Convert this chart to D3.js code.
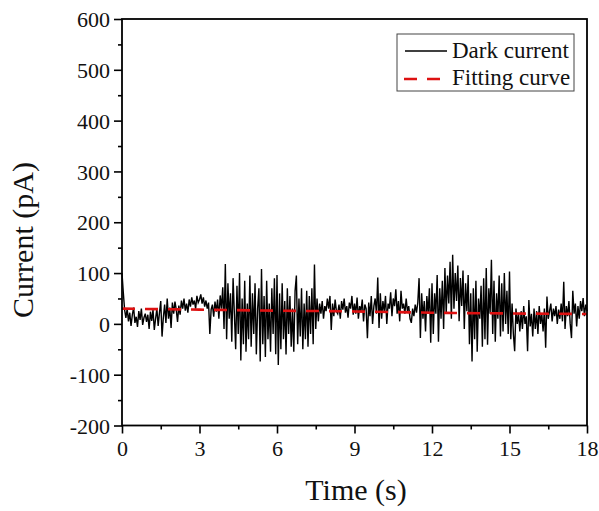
<!DOCTYPE html>
<html>
  <head>
    <meta charset="utf-8">
    <title>Dark current</title>
    <script src="https://d3js.org/d3.v7.min.js"></script>
    <style>
      body { margin: 0; background: #fff; }
      text { font-family: "Liberation Serif", "Times New Roman", serif; fill: #111; }
    </style>
  </head>
  <body>
    <script>
      // dark current, pA, sampled every 0.05 s (one line per second)
      var sampleStep = 0.05;
      var darkCurrent = [
        100, 62, 28, 12, 30, 5, 22, -4, 18, 32, 2, 14, -6, 25, 8, 30, -2, 12, 20, 4,
        18, -10, 24, 6, 28, -12, 10, 30, -4, 22, 45, -25, 12, 38, 2, 50, 10, 32, -8, 42,
        20, 44, 28, 4, 36, 18, 46, 30, 50, 26, 40, 22, 48, 34, 52, 38, 46, 30, 55, 42,
        48, 58, 40, 52, 34, 46, 30, 42, -20, 28, 38, 14, 44, 24, 48, 10, 56, 30, 72, -10,
        118, -30, 80, 10, 60, -35, 90, 20, -50, 75, -20, 100, -72, 50, -40, 85, -55, 40, -30, 95,
        -45, 60, -20, 80, -60, 30, 70, -74, 108, -40, 55, -65, 85, -30, 40, -55, 70, -20, 90, -60,
        96, -81, 60, -50, 80, -30, 45, -60, 70, -20, 55, -45, 30, -55, 65, 95, -40, 50, -25, 70,
        -50, 40, -30, 65, -45, 55, -20, 70, -40, 117, -10, 50, 5, 40, 20, 45, 10, 35, 25, 50,
        30, 55, -12, 40, 15, 48, 25, 20, 38, 10, 45, 28, 50, 22, 35, 12, 42, 30, 55, 18,
        40, 20, 52, 10, 35, 25, 48, 5, 38, 30, -28, 42, 15, 55, 0, 35, 50, 20, 91, -8,
        60, 10, 45, 25, 55, 0, 40, 30, 62, 15, 50, 35, 68, 20, 45, 5, 65, 30, 40, 20,
        50, 25, 35, 10, 2, 30, 15, 38, 22, 42, 90, -28, 60, 10, 45, -15, 55, 20, 70, -37,
        80, -20, 60, 20, 96, -35, 70, 10, 85, -10, 110, 20, 95, 40, 122, 10, 136, 30, 100, 45,
        115, 5, 90, 35, 105, -10, 80, 25, 96, -40, 60, -74, 70, -30, 85, -55, 50, 10, 75, -45,
        90, -30, 110, -41, 70, 20, 126, -20, 85, -35, 60, 10, 95, -25, 80, -15, 100, 0, 65, -20,
        103, -30, 40, -20, -54, 30, 0, 20, -15, 25, -10, 35, 0, 15, -54, 47, -5, 20, -25, 30,
        -10, 25, -20, 35, 0, 20, -15, 30, -47, 54, 10, 25, 40, 5, 30, 15, 35, 0, 28, 10,
        40, 5, 83, -10, 35, 15, 45, 0, -28, 65, 20, 40, -5, 35, 10, 45, 25, 51, 15, 38,
        25
      ];

      // fitting curve
      var fitTime  = [0, 3, 6, 9, 12, 15, 18];
      var fitValue = [30, 28, 26, 24.5, 22, 20.5, 19.5];

      var xTicks = [0, 3, 6, 9, 12, 15, 18];
      var xMinor = [1.5, 4.5, 7.5, 10.5, 13.5, 16.5];
      var yTicks = [-200, -100, 0, 100, 200, 300, 400, 500, 600];
      var yMinor = [-150, -50, 50, 150, 250, 350, 450, 550];

      var legendLabels = ["Dark current", "Fitting curve"];

      var width = 599, height = 511;
      var plotLeft = 122, plotRight = 587, plotTop = 19, plotBottom = 425.5;

      var svg = d3.select("body").append("svg")
        .attr("width", width)
        .attr("height", height);

      var x = d3.scaleLinear().domain([0, 18]).range([plotLeft, plotRight]);
      var y = d3.scaleLinear().domain([-200, 600]).range([plotBottom, plotTop]);

      var series = darkCurrent.map(function (v, i) { return { t: i * sampleStep, v: v }; });
      var fit = fitTime.map(function (t, i) { return { t: t, v: fitValue[i] }; });

      var line = d3.line()
        .x(function (d) { return x(d.t); })
        .y(function (d) { return y(d.v); });

      var fitLine = d3.line()
        .curve(d3.curveMonotoneX)
        .x(function (d) { return x(d.t); })
        .y(function (d) { return y(d.v); });

      svg.append("path")
        .datum(series)
        .attr("fill", "none")
        .attr("stroke", "#000")
        .attr("stroke-width", 1.4)
        .attr("d", line);

      svg.append("path")
        .datum(fit)
        .attr("fill", "none")
        .attr("stroke", "#dd1111")
        .attr("stroke-width", 2.6)
        .attr("stroke-dasharray", "13,10")
        .attr("d", fitLine);

      // axes (plain hyphen for negatives, like the original)
      var plain = function (d) { return String(d); };

      var xAxis = svg.append("g")
        .attr("transform", "translate(0," + plotBottom + ")")
        .call(d3.axisBottom(x).tickValues(xTicks).tickSize(8).tickPadding(5).tickFormat(plain));
      svg.append("g")
        .attr("transform", "translate(0," + plotBottom + ")")
        .call(d3.axisBottom(x).tickValues(xMinor).tickSize(4).tickFormat(""));

      var yAxis = svg.append("g")
        .attr("transform", "translate(" + plotLeft + ",0)")
        .call(d3.axisLeft(y).tickValues(yTicks).tickSize(8).tickPadding(4).tickFormat(plain));
      svg.append("g")
        .attr("transform", "translate(" + plotLeft + ",0)")
        .call(d3.axisLeft(y).tickValues(yMinor).tickSize(4).tickFormat(""));

      svg.selectAll(".domain").remove();
      svg.selectAll(".tick line").attr("stroke", "#000").attr("stroke-width", 1.6);
      svg.selectAll(".tick text")
        .attr("font-size", 22)
        .attr("font-family", "Liberation Serif")
        .attr("fill", "#111");
      xAxis.selectAll(".tick text").attr("dy", "0.8em");
      yAxis.selectAll(".tick text").attr("dy", "0.35em");

      svg.append("rect")
        .attr("x", plotLeft).attr("y", plotTop)
        .attr("width", plotRight - plotLeft).attr("height", plotBottom - plotTop)
        .attr("fill", "none")
        .attr("stroke", "#000")
        .attr("stroke-width", 1.8);

      // titles
      svg.append("text")
        .attr("x", 356)
        .attr("y", 500)
        .attr("text-anchor", "middle")
        .attr("font-size", 30)
        .text("Time (s)");

      svg.append("text")
        .attr("transform", "translate(33,240) rotate(-90)")
        .attr("text-anchor", "middle")
        .attr("font-size", 30)
        .text("Current (pA)");

      // legend
      var legend = svg.append("g");
      legend.append("rect")
        .attr("x", 397).attr("y", 34)
        .attr("width", 177).attr("height", 57)
        .attr("fill", "#fff")
        .attr("stroke", "#444")
        .attr("stroke-width", 1);

      legend.append("line")
        .attr("x1", 405).attr("x2", 447)
        .attr("y1", 51).attr("y2", 51)
        .attr("stroke", "#000").attr("stroke-width", 1.3);
      legend.append("line")
        .attr("x1", 404).attr("x2", 447)
        .attr("y1", 79).attr("y2", 79)
        .attr("stroke", "#dd1111").attr("stroke-width", 2.6)
        .attr("stroke-dasharray", "13,10");

      legend.selectAll("text.lab")
        .data(legendLabels)
        .enter().append("text")
          .attr("class", "lab")
          .attr("x", 452)
          .attr("y", function (d, i) { return 58 + i * 27; })
          .attr("font-size", 23)
          .text(function (d) { return d; });
    </script>
  </body>
</html>
